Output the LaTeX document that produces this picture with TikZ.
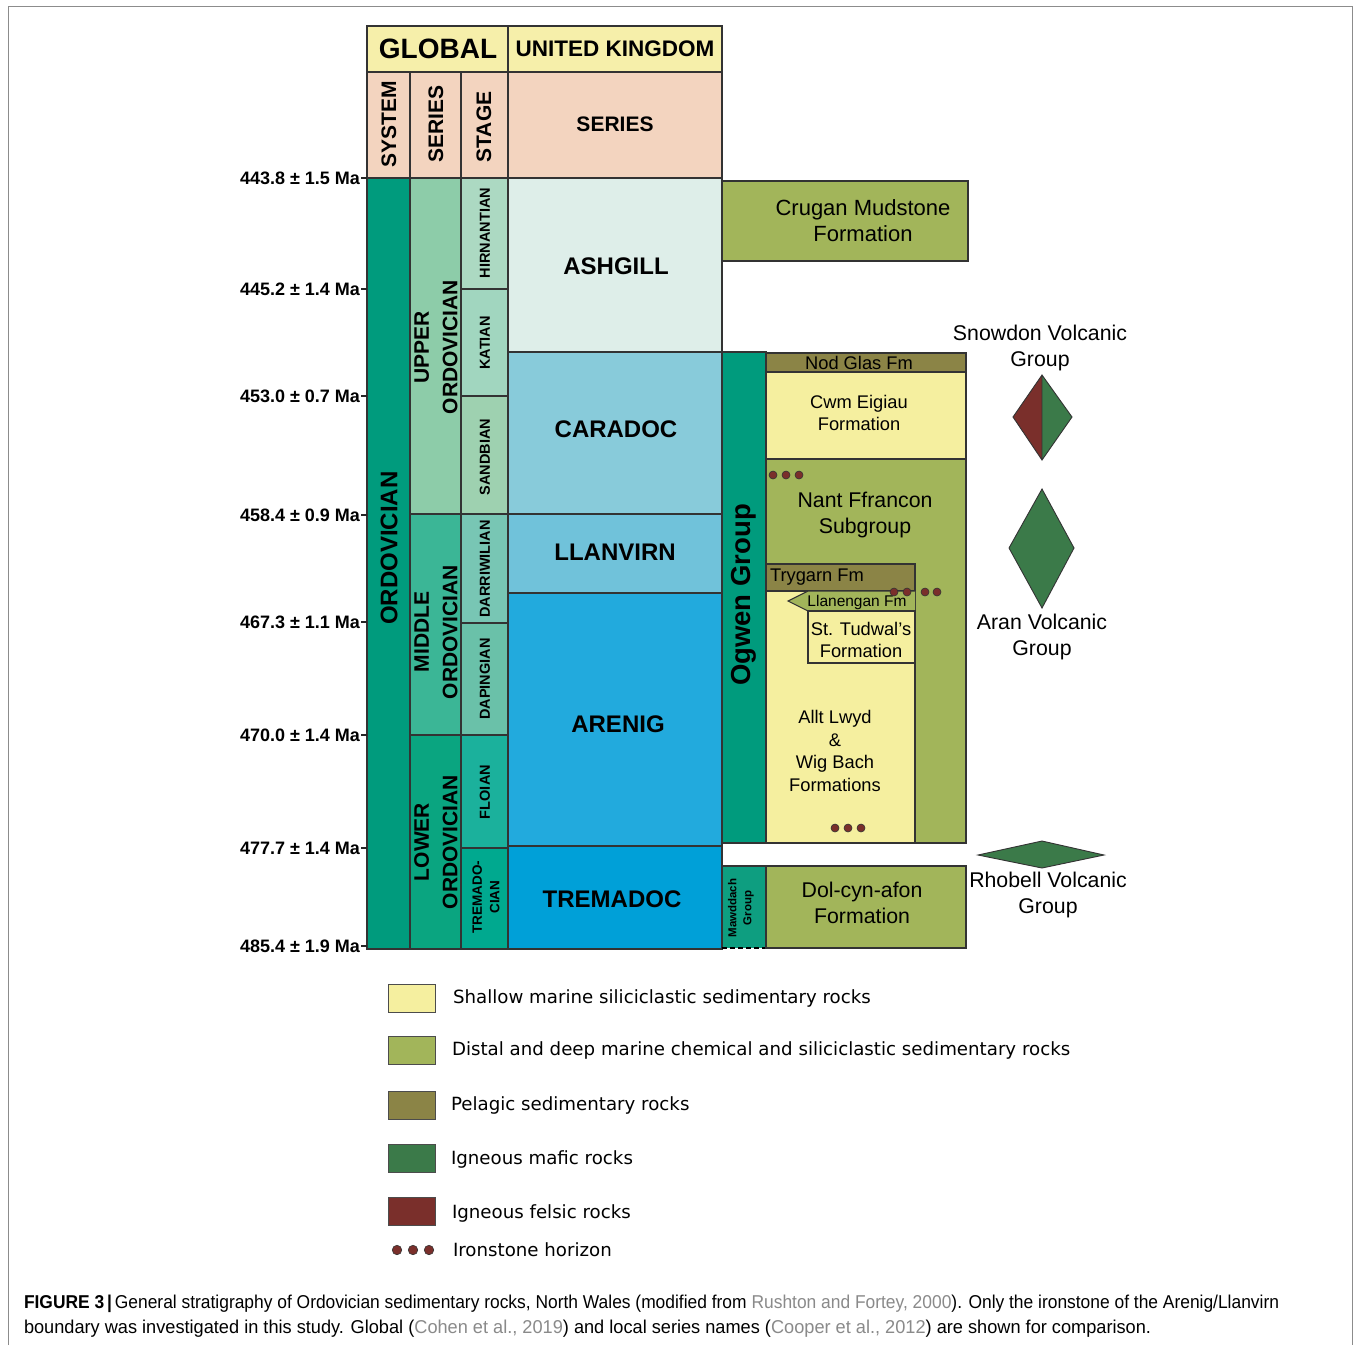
\documentclass[tikz,border=0pt]{standalone}
\usepackage{graphicx}
\usepackage{fontspec}
\setmainfont{Liberation Sans}
\newfontfamily\legfont{DejaVu Sans}
\newfontfamily\capfont{Liberation Sans}
\definecolor{hdrY}{HTML}{F6EFAA}
\definecolor{peach}{HTML}{F3D4BF}
\definecolor{ordoC}{HTML}{009B7D}
\definecolor{upperC}{HTML}{8DCCA9}
\definecolor{middleC}{HTML}{3BB696}
\definecolor{lowerC}{HTML}{0AA580}
\definecolor{hirnC}{HTML}{ACD9C2}
\definecolor{katC}{HTML}{A1D6BF}
\definecolor{sandC}{HTML}{9ED1B0}
\definecolor{darrC}{HTML}{78C6B4}
\definecolor{dapC}{HTML}{6AC1A9}
\definecolor{floiC}{HTML}{1BB19C}
\definecolor{tremC}{HTML}{00A98F}
\definecolor{ashgC}{HTML}{DEEEE9}
\definecolor{caraC}{HTML}{88CBDA}
\definecolor{llanC}{HTML}{70C2DA}
\definecolor{arenC}{HTML}{22AADD}
\definecolor{tremukC}{HTML}{00A0D8}
\definecolor{shallow}{HTML}{F5EF9F}
\definecolor{distal}{HTML}{A2B55A}
\definecolor{pelagic}{HTML}{8B8446}
\definecolor{mafic}{HTML}{3B7A49}
\definecolor{felsic}{HTML}{7A2F2B}
\definecolor{citegray}{HTML}{8A8A8A}
\definecolor{mawdC}{HTML}{0E9E80}
\newcommand\fsz[2]{\fontsize{#1}{#2}\selectfont}
\newcommand\cellbox[6]{\node[cell,fill=#6,minimum width={#4pt-#2pt},minimum height={#5pt-#3pt}] (#1) at ({(#2+#4)/2},{(#3+#5)/2}) {};}
\begin{document}
\begin{tikzpicture}[x=1pt,y=-1pt,
  every node/.style={inner sep=0pt,outer sep=0pt},
  cell/.style={draw=black!80,line width=1.1pt,rectangle},
  hdr/.style={font=\bfseries\fsz{28}{32}},
  colhdr/.style={font=\bfseries\fsz{21}{25}},
  ukser/.style={font=\bfseries\fsz{24}{28}},
  serlbl/.style={font=\bfseries\fsz{21}{28.5},align=center,rotate=90},
  stglbl/.style={font=\bfseries\fsz{14.5}{17},align=center,rotate=90},
  fmlbl/.style={font=\fsz{18.3}{22.7},align=center},
  biglbl/.style={font=\fsz{21.3}{26.5},align=center},
  malbl/.style={font=\bfseries\fsz{18}{20},anchor=east},
  legtxt/.style={font=\legfont\fsz{18.2}{22},anchor=west},
  swatch/.style={draw=black!70,line width=0.8pt,minimum width=47pt,minimum height=28pt},
  dot/.style={circle,fill=felsic,draw=black!80,line width=0.6pt,minimum size=8pt},
  tick/.style={line width=1.1pt,black!85}]
\useasboundingbox (0,0) rectangle (1356,1345);
\fill[white] (0,0) rectangle (1356,1345);
\draw[black!45,line width=0.8pt] (8,1345) -- (8,6) -- (1352,6) -- (1352,1345);
% headers
\cellbox{glob}{367}{26}{508}{72}{hdrY}
\cellbox{ukhd}{508}{26}{722}{72}{hdrY}
\cellbox{sysh}{367}{72}{410}{178}{peach}
\cellbox{serh}{410}{72}{461}{178}{peach}
\cellbox{stah}{461}{72}{508}{178}{peach}
\cellbox{ukserh}{508}{72}{722}{178}{peach}
\node[hdr] (tglob) at (438,49) {GLOBAL};
\node[colhdr,font=\bfseries\fsz{22.5}{26}] (tuk) at (615,49) {UNITED KINGDOM};
\node[colhdr,rotate=90] (tsys) at (389,124) {SYSTEM};
\node[colhdr,rotate=90] (tser) at (436,124) {SERIES};
\node[colhdr,rotate=90] (tsta) at (484,127) {STAGE};
\node[colhdr] (tukser) at (615,124) {SERIES};
% global columns
\cellbox{ordo}{367}{178}{410}{949}{ordoC}
\cellbox{upper}{410}{178}{461}{514}{upperC}
\cellbox{middle}{410}{514}{461}{735}{middleC}
\cellbox{lower}{410}{735}{461}{949}{lowerC}
\cellbox{hirn}{461}{178}{508}{289}{hirnC}
\cellbox{kat}{461}{289}{508}{396}{katC}
\cellbox{sand}{461}{396}{508}{514}{sandC}
\cellbox{darr}{461}{514}{508}{623}{darrC}
\cellbox{dap}{461}{623}{508}{735}{dapC}
\cellbox{floi}{461}{735}{508}{848}{floiC}
\cellbox{trem}{461}{848}{508}{949}{tremC}
\node[ukser,rotate=90] (tordo) at (389,548) {ORDOVICIAN};
\node[serlbl] (tupper) at (436,347) {UPPER\\ORDOVICIAN};
\node[serlbl] (tmiddle) at (436,632) {MIDDLE\\ORDOVICIAN};
\node[serlbl] (tlower) at (436,842) {LOWER\\ORDOVICIAN};
\node[stglbl] (thirn) at (485,233) {HIRNANTIAN};
\node[stglbl] (tkat) at (485,343) {KATIAN};
\node[stglbl] (tsand) at (485,457) {SANDBIAN};
\node[stglbl] (tdarr) at (485,569) {DARRIWILIAN};
\node[stglbl] (tdap) at (485,679) {DAPINGIAN};
\node[stglbl] (tfloi) at (485,792) {FLOIAN};
\node[stglbl,font=\bfseries\fsz{13.5}{17.5}] (ttrem) at (486,897) {TREMADO-\\CIAN};
% UK series
\cellbox{ashg}{508}{178}{722}{352}{ashgC}
\cellbox{cara}{508}{352}{722}{514}{caraC}
\cellbox{llan}{508}{514}{722}{593}{llanC}
\cellbox{aren}{508}{593}{722}{846}{arenC}
\cellbox{tremuk}{508}{846}{722}{949}{tremukC}
\node[ukser] (tashg) at (616,266) {ASHGILL};
\node[ukser] (tcara) at (616,429) {CARADOC};
\node[ukser] (tllan) at (615,552) {LLANVIRN};
\node[ukser] (taren) at (618,724) {ARENIG};
\node[ukser] (ttremuk) at (612,899) {TREMADOC};
% Ma labels
\node[malbl] (ma1) at (360,178) {443.8 ± 1.5 Ma};
\node[malbl] (ma2) at (360,289) {445.2 ± 1.4 Ma};
\node[malbl] (ma3) at (360,396) {453.0 ± 0.7 Ma};
\node[malbl] (ma4) at (360,515) {458.4 ± 0.9 Ma};
\node[malbl] (ma5) at (360,622) {467.3 ± 1.1 Ma};
\node[malbl] (ma6) at (360,735) {470.0 ± 1.4 Ma};
\node[malbl] (ma7) at (360,848) {477.7 ± 1.4 Ma};
\node[malbl] (ma8) at (360,946) {485.4 ± 1.9 Ma};
\foreach \m in {ma1,ma2,ma3,ma4,ma5,ma6,ma7,ma8}{\draw[tick] (\m.east) ++(1,0) -- (ordo.west |- \m.east);}
% right side
\cellbox{crugan}{722}{181}{968}{261}{distal}
\node[biglbl,font=\fsz{22}{26}] (tcrugan) at (863,221) {Crugan Mudstone\\Formation};
\cellbox{ogwen}{722}{352}{766}{843}{ordoC}
\node[font=\bfseries\fsz{27.5}{30},rotate=90] (togwen) at (744,595) {Ogwen Group};
\cellbox{nodglas}{766}{353}{966}{372}{pelagic}
\node[fmlbl] (tnod) at (859,363) {Nod Glas Fm};
\cellbox{cwm}{766}{372}{966}{459}{shallow}
\node[fmlbl] (tcwm) at (859,413) {Cwm Eigiau\\Formation};
\cellbox{nant}{766}{459}{966}{843}{distal}
\node[biglbl] (tnant) at (865,515) {Nant Ffrancon\\Subgroup};
\cellbox{allt}{766}{591}{915}{843}{shallow}
\node[fmlbl] (tallt) at (835,751) {Allt Lwyd\\\&\\Wig Bach\\Formations};
\cellbox{trygarn}{766}{564}{915}{591}{pelagic}
\node[fmlbl,anchor=west] (ttryg) at (770,577) {Trygarn Fm};
\draw[draw=black!80,line width=1.1pt,fill=distal] (915,591) -- (808,591) -- (788,601) -- (808,611) -- (915,611);
\node[font=\fsz{15.5}{18}] (tllanen) at (857,602) {Llanengan Fm};
\cellbox{tudwal}{808}{611}{915}{663}{shallow}
\node[fmlbl] (ttud) at (861,640) {St. Tudwal's\\Formation};
\node[fill=mawdC,minimum width=44pt,minimum height=82pt] (mawd) at (744,907) {};
\draw[draw=black!80,line width=1.1pt] (mawd.south west) -- (mawd.north west) -- (mawd.north east) -- (mawd.south east);
\draw[black,line width=2.5pt,dash pattern=on 5pt off 3pt] (mawd.south west) -- (mawd.south east);
\node[font=\bfseries\fsz{11.5}{15},align=center,rotate=90] (tmawd) at (741,908) {Mawddach\\Group};
\cellbox{dol}{766}{866}{966}{948}{distal}
\node[biglbl] (tdol) at (862,903) {Dol-cyn-afon\\Formation};
% ironstone dots
\foreach \x/\y [count=\i] in {773/475,786/475,799/475,894/592,907/592,925/592,937/592,835/828,848/828,861/828}{\node[dot] (d\i) at (\x,\y) {};}
% volcanic groups
\fill[felsic] (1042,375) -- (1042,460) -- (1013,417) -- cycle;
\fill[mafic] (1042,375) -- (1072,417) -- (1042,460) -- cycle;
\draw[black!80,line width=0.9pt] (1042,375) -- (1072,417) -- (1042,460) -- (1013,417) -- cycle (1042,375) -- (1042,460);
\node[biglbl] (tsnow) at (1040,348) {Snowdon Volcanic\\Group};
\draw[black!80,line width=0.9pt,fill=mafic] (1042,489) -- (1074,548) -- (1042,608) -- (1009,548) -- cycle;
\node[biglbl] (taran) at (1042,637) {Aran Volcanic\\Group};
\draw[black!80,line width=0.9pt,fill=mafic] (978,855) -- (1042,841) -- (1104,855) -- (1042,868) -- cycle;
\node[biglbl] (trhob) at (1048,895) {Rhobell Volcanic\\Group};
% legend
\node[swatch,fill=shallow] (sw1) at (411.5,998) {};
\node[swatch,fill=distal] (sw2) at (411.5,1050) {};
\node[swatch,fill=pelagic] (sw3) at (411.5,1105) {};
\node[swatch,fill=mafic] (sw4) at (411.5,1158) {};
\node[swatch,fill=felsic] (sw5) at (411.5,1211) {};
\node[legtxt] (l1) at (453,998) {Shallow marine siliciclastic sedimentary rocks};
\node[legtxt] (l2) at (452,1050) {Distal and deep marine chemical and siliciclastic sedimentary rocks};
\node[legtxt] (l3) at (451,1105) {Pelagic sedimentary rocks};
\node[legtxt] (l4) at (451,1159) {Igneous mafic rocks};
\node[legtxt] (l5) at (452,1213) {Igneous felsic rocks};
\node[dot,minimum size=9.5pt] (ld1) at (397,1250) {};
\node[dot,minimum size=9.5pt] (ld2) at (413,1250) {};
\node[dot,minimum size=9.5pt] (ld3) at (429,1250) {};
\node[legtxt] (l6) at (453,1250) {Ironstone horizon};
% caption
\node[anchor=base west,font=\capfont\fsz{18.6}{22}] (cap1) at (24,1308.5) {\resizebox{1255pt}{\height}{\textbf{FIGURE 3}\,\textbf{|}\,General stratigraphy of Ordovician sedimentary rocks, North Wales (modified from \textcolor{citegray}{Rushton and Fortey, 2000}). Only the ironstone of the Arenig/Llanvirn}};
\node[anchor=base west,font=\capfont\fsz{18.6}{22}] (cap2) at (24,1333.5) {\resizebox{1127pt}{\height}{boundary was investigated in this study. Global (\textcolor{citegray}{Cohen et al., 2019}) and local series names (\textcolor{citegray}{Cooper et al., 2012}) are shown for comparison.}};
\end{tikzpicture}
\end{document}
